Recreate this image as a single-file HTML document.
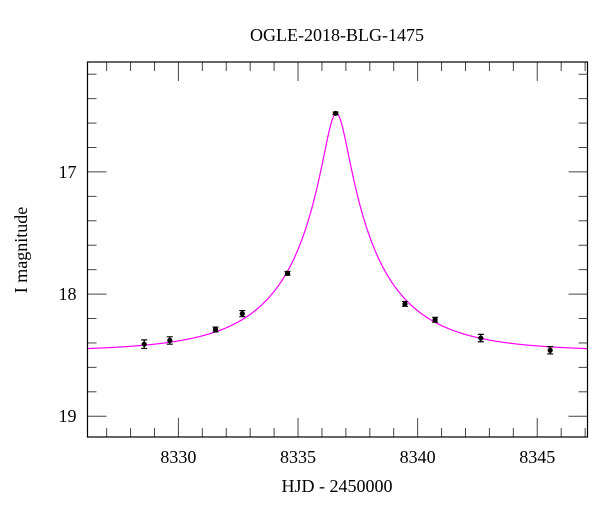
<!DOCTYPE html>
<html><head><meta charset="utf-8"><style>
html,body{margin:0;padding:0;background:#fff;}
svg text{font-family:"Liberation Serif",serif;fill:#000;}
</style></head><body>
<svg id="chart" width="600" height="512" xmlns="http://www.w3.org/2000/svg">
<text x="337" y="41" font-size="18" text-anchor="middle">OGLE-2018-BLG-1475</text>
<text x="337" y="492" font-size="18" text-anchor="middle">HJD - 2450000</text>
<text x="27" y="250" font-size="18" text-anchor="middle" transform="rotate(-90 27 250)">I magnitude</text>
<g id="ticks"></g>
<g id="curve"></g>
<g id="pts"></g>
<rect x="87.5" y="62" width="500" height="375" fill="none" stroke="#000" stroke-width="1.2"/>
</svg>
<script>
const times = [8328.57, 8329.64, 8331.55, 8332.67, 8334.56, 8336.57, 8339.47, 8340.73, 8342.64, 8345.54];
const mags = [18.41, 18.38, 18.29, 18.16, 17.83, 16.52, 18.08, 18.21, 18.36, 18.46];
const errs = [0.035, 0.03, 0.02, 0.025, 0.015, 0.01, 0.02, 0.02, 0.03, 0.03];
const xTicks = [8330, 8335, 8340, 8345];
const yTicks = [17, 18, 19];
const modelT0 = 8336.6, modelU0 = 0.123, modelTE = 4.22, modelBase = 18.47, modelFs = 0.7;

const L=87.5,R=587.5,T=62,B=437;
const xMin=8326.2, xMax=8347.1, yMin=16.1, yMax=19.17;
const X=d=>L+(d-xMin)/(xMax-xMin)*(R-L);
const Y=m=>T+(m-yMin)/(yMax-yMin)*(B-T);
const NS="http://www.w3.org/2000/svg";
function mk(tag,attrs,parent){const e=document.createElementNS(NS,tag);for(const k in attrs)e.setAttribute(k,attrs[k]);parent.appendChild(e);return e;}
const tg=document.getElementById('ticks');
for(let d=Math.ceil(xMin);d<=xMax;d++){
  const maj=d%5===0, len=maj?19:9;
  const a=mk('line',{x1:X(d),x2:X(d),y1:B,y2:B-len,stroke:'#444','stroke-width':1},tg);
  
  
  const b=mk('line',{x1:X(d),x2:X(d),y1:T,y2:T+len,stroke:'#444','stroke-width':1},tg);
  
  
}
for(let i=Math.ceil(yMin*5);i<=yMax*5;i++){
  const m=i/5, maj=i%5===0, len=maj?19:9;
  const a=mk('line',{x1:L,x2:L+len,y1:Y(m),y2:Y(m),stroke:'#444','stroke-width':1},tg);
  
  
  const b=mk('line',{x1:R,x2:R-len,y1:Y(m),y2:Y(m),stroke:'#444','stroke-width':1},tg);
  
  
}
xTicks.forEach(v=>{const t=mk('text',{x:X(v),y:B+26,'font-size':18,'text-anchor':'middle'},tg);t.textContent=v;
  
  });
yTicks.forEach(v=>{const t=mk('text',{x:L-11,y:Y(v)+6,'font-size':18,'text-anchor':'end'},tg);t.textContent=v;
  
  });
function model(t){const u=Math.sqrt(modelU0*modelU0+Math.pow((t-modelT0)/modelTE,2));
  const A=(u*u+2)/(u*Math.sqrt(u*u+4));return modelBase-2.5*Math.log10(modelFs*A+1-modelFs);}
let dstr='';for(let i=0;i<=800;i++){const t=xMin+(xMax-xMin)*i/800;dstr+=(i?'L':'M')+X(t).toFixed(2)+' '+Y(model(t)).toFixed(2);}
const cp=mk('path',{d:dstr,fill:'none',stroke:'#ff00ff','stroke-width':1.2},document.getElementById('curve'));


const pg=document.getElementById('pts');
times.forEach((t,i)=>{const x=X(t),y=Y(mags[i]),y1=Y(mags[i]-errs[i]),y2=Y(mags[i]+errs[i]);
  const e=mk('path',{d:`M${x} ${y1}V${y2}M${x-3} ${y1}H${x+3}M${x-3} ${y2}H${x+3}`,stroke:'#000','stroke-width':1.2,fill:'none'},pg);
  
  
  const c=mk('circle',{cx:x,cy:y,r:2.6,fill:'#000'},pg);
  
  });
</script>
</body></html>
